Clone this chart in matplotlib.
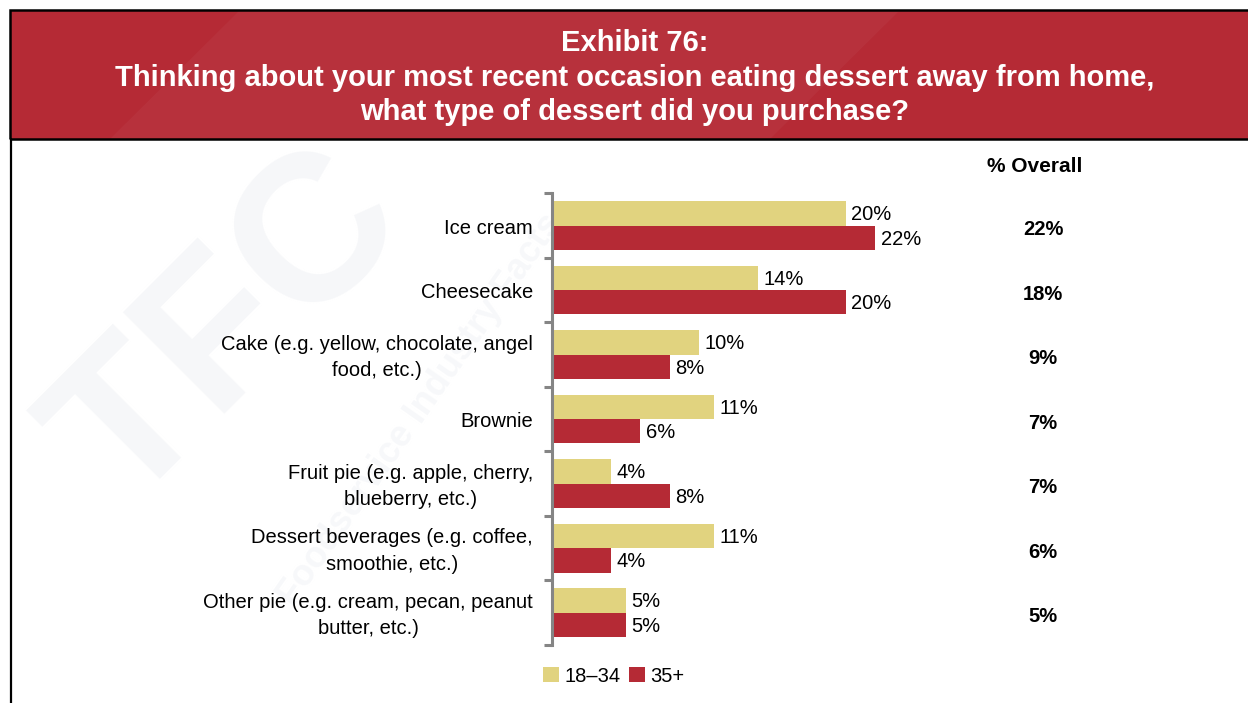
import matplotlib
matplotlib.use("Agg")
import matplotlib.pyplot as plt
import matplotlib.transforms as mtransforms
from matplotlib.patches import Rectangle, Patch, Polygon
from matplotlib.lines import Line2D

plt.rcParams['font.family'] = ['Liberation Sans', 'DejaVu Sans']

# ---- data -------------------------------------------------------------
categories = [
    "Ice cream",
    "Cheesecake",
    "Cake (e.g. yellow, chocolate, angel\nfood, etc.)",
    "Brownie",
    "Fruit pie (e.g. apple, cherry,\nblueberry, etc.)",
    "Dessert beverages (e.g. coffee,\nsmoothie, etc.)",
    "Other pie (e.g. cream, pecan, peanut\nbutter, etc.)",
]
age_18_34 = [20, 14, 10, 11, 4, 11, 5]
age_35_plus = [22, 20, 8, 6, 8, 4, 5]
overall = [22, 18, 9, 7, 7, 6, 5]
series_names = ["18\u201334", "35+"]

title_lines = [
    "Exhibit 76:",
    "Thinking about your most recent occasion eating dessert away from home,",
    "what type of dessert did you purchase?",
]

# ---- styling ----------------------------------------------------------
W, H = 1248, 703
RED = "#B52A35"
YELLOW = "#E1D37F"
AXIS_GREY = "#858585"


def fx(px):
    return px / W


def fy(py):
    return 1 - py / H


fig = plt.figure(figsize=(W / 100, H / 100), dpi=100)
fig.patch.set_facecolor("white")

# faint background watermark
fig.text(fx(230), fy(330), "TFC", fontsize=150, fontweight="bold",
         color="#F6F7F9", rotation=45, ha="center", va="center", zorder=-10)
fig.text(fx(420), fy(410), "Foodservice Industry Facts", fontsize=26,
         fontweight="bold", color="#F7F8FA", rotation=55, ha="center",
         va="center", zorder=-10)

# header band
fig.patches.append(Rectangle((fx(10), fy(139)), fx(1270) - fx(10),
                             fy(10) - fy(139), transform=fig.transFigure,
                             facecolor=RED, edgecolor="none", zorder=1))
# subtle lighter diagonal sheen in the header
fig.patches.append(Polygon([(fx(110), fy(139)), (fx(240), fy(10)),
                            (fx(900), fy(10)), (fx(770), fy(139))],
                           closed=True, transform=fig.transFigure,
                           facecolor="white", alpha=0.035, edgecolor="none",
                           zorder=1.1))
fig.patches.append(Rectangle((fx(10), fy(139)), fx(1270) - fx(10),
                             fy(10) - fy(139), transform=fig.transFigure,
                             facecolor="none", edgecolor="black",
                             linewidth=1.8, zorder=1.2))
fig.lines.append(Line2D([fx(10.5), fx(10.5)], [fy(139), fy(710)],
                        transform=fig.transFigure, color="black",
                        linewidth=1.6, zorder=1))
for line, y in zip(title_lines, [43, 78, 112]):
    fig.text(fx(635), fy(y), line, color="white", fontsize=21,
             fontweight="bold", ha="center", va="center", zorder=2)

# ---- bar chart --------------------------------------------------------
ax_left, ax_right = 552.4, 552.4 + 14.67 * 30
ax_top, ax_bottom = 193.3, 645.0
ax = fig.add_axes([fx(ax_left), fy(ax_bottom), fx(ax_right) - fx(ax_left),
                   fy(ax_top) - fy(ax_bottom)])
ax.patch.set_alpha(0)

n = len(categories)
pos = list(range(n))
bh = 0.377
ax.barh([p - bh / 2 for p in pos], age_18_34, height=bh, color=YELLOW,
        label=series_names[0], zorder=2)
ax.barh([p + bh / 2 for p in pos], age_35_plus, height=bh, color=RED,
        label=series_names[1], zorder=2)

for p, v in zip(pos, age_18_34):
    ax.annotate(f"{v}%", (v, p - bh / 2), xytext=(4, -1),
                textcoords="offset points", va="center", ha="left",
                fontsize=14.5, color="black")
for p, v in zip(pos, age_35_plus):
    ax.annotate(f"{v}%", (v, p + bh / 2), xytext=(4, -1),
                textcoords="offset points", va="center", ha="left",
                fontsize=14.5, color="black")

ax.set_xlim(0, 30)
ax.set_ylim(n - 0.5, -0.5)
for side in ("top", "right", "bottom"):
    ax.spines[side].set_visible(False)
ax.spines["left"].set_color(AXIS_GREY)
ax.spines["left"].set_linewidth(2.2)
ax.set_xticks([])
ax.set_yticks([p - 0.5 for p in range(n + 1)])
ax.set_yticklabels([])
ax.tick_params(axis="y", length=6, width=2.2, color=AXIS_GREY, direction="out")

# category labels
for p, lab in zip(pos, categories):
    ax.annotate(lab, (0, p), xycoords=("axes fraction", "data"),
                xytext=(-14, -2), textcoords="offset points",
                ha="right", va="center", multialignment="center",
                fontsize=14.5, color="black", linespacing=1.5)

# overall column
fig.text(fx(1035), fy(167), "% Overall", fontsize=15, fontweight="bold",
         ha="center", va="center")
col_tf = mtransforms.blended_transform_factory(fig.transFigure, ax.transData)
for p, v in zip(pos, overall):
    t = fig.text(fx(1043), p, f"{v}%", transform=col_tf,
                 ha="center", va="center", fontsize=14.5, fontweight="bold")
    t.set_transform(col_tf + mtransforms.ScaledTranslation(0, -4 / 100,
                                                           fig.dpi_scale_trans))

# legend
handles = [Patch(facecolor=YELLOW), Patch(facecolor=RED)]
fig.legend(handles, series_names, loc="center left",
           bbox_to_anchor=(fx(543), fy(676)), ncol=2, frameon=False,
           fontsize=14.5, handlelength=0.8, handleheight=0.8,
           handletextpad=0.25, columnspacing=0.45, borderpad=0.0,
           borderaxespad=0.0)

fig.savefig("out.png", dpi=100)
